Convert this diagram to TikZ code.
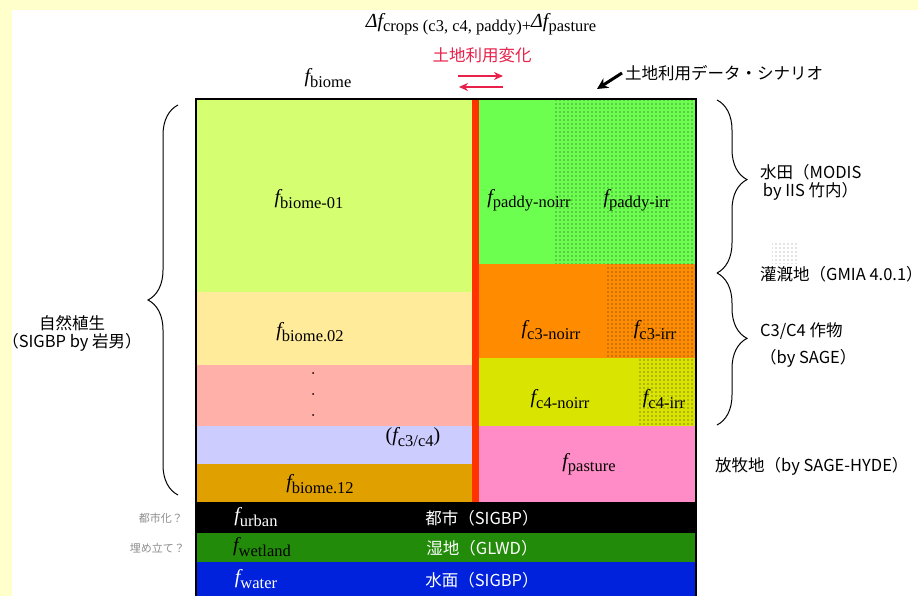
\documentclass[tikz,border=0pt]{standalone}
\usepackage{fontspec}
\setmainfont{Liberation Serif}
\newfontfamily\jp{Noto Sans CJK JP}
\usetikzlibrary{patterns,decorations.pathreplacing,arrows.meta}
\pgfdeclarepatternformonly{fdots}{\pgfqpoint{-1pt}{-1pt}}{\pgfqpoint{1pt}{1pt}}{\pgfqpoint{4pt}{4pt}}{\pgfpathcircle{\pgfqpoint{0pt}{0pt}}{0.7pt}\pgfusepath{fill}}
\definecolor{bgyel}{HTML}{FFFFCC}
\definecolor{cb01}{HTML}{D5FF70}
\definecolor{cb02}{HTML}{FFEB99}
\definecolor{cbpink}{HTML}{FFB0A8}
\definecolor{cblav}{HTML}{CCCCFF}
\definecolor{cb12}{HTML}{E0A000}
\definecolor{cpaddy}{HTML}{6CFF50}
\definecolor{cc3}{HTML}{FF8C00}
\definecolor{cc4}{HTML}{D9E400}
\definecolor{cpast}{HTML}{FF8CC6}
\definecolor{cwet}{HTML}{228C0A}
\definecolor{cwater}{HTML}{0022DD}
\definecolor{cbar}{HTML}{FF3300}
\definecolor{crimson}{HTML}{E8204A}
\newcommand\fbig{\fontsize{20}{24}\selectfont}
\newcommand\fsub{\fontsize{16.5}{20}\selectfont}
\newcommand\fl[1]{{\fbig\itshape f}\raisebox{-4.5pt}{\fsub #1}}
\newcommand\jsz{\jp\fontsize{16.5}{20}\selectfont}
\tikzset{
  lbl/.style={inner sep=0pt, anchor=center},
  jlbl/.style={inner sep=0pt, font=\jsz},
  jlw/.style={jlbl, anchor=west},
  graylbl/.style={inner sep=0pt, anchor=east, text=black!45, font=\jp\fontsize{11}{13}\selectfont},
  brc/.style={decorate, decoration={brace, amplitude=30pt, aspect=#1}, line width=1pt},
  brc/.default=0.5,
  redarr/.style={crimson, line width=1.6pt, -{Stealth[length=9pt,width=8pt]}},
  blkarr/.style={black, line width=3pt, -{Stealth[length=11pt,width=11pt]}},
  dotted area/.style={pattern=fdots, pattern color=black!85}
}
\begin{document}
\begin{tikzpicture}[x=1pt,y=-1pt]
\useasboundingbox (0,0) rectangle (918,596);
\clip (0,0) rectangle (918,596);
% background
\fill[bgyel] (0,0) rectangle (918,596);
\fill[white] (12,10) rectangle (918,596);
% left bands
\fill[cb01] (196,99) rectangle (472,292);
\fill[cb02] (196,292) rectangle (472,365);
\fill[cbpink] (196,365) rectangle (472,426);
\fill[cblav] (196,426) rectangle (472,464);
\fill[cb12] (196,464) rectangle (472,502);
% right bands
\fill[cpaddy] (479,99) rectangle (696,264);
\fill[dotted area] (553,99) rectangle (696,264);
\fill[cc3] (479,264) rectangle (696,358);
\fill[dotted area] (605,264) rectangle (696,358);
\fill[cc4] (479,358) rectangle (696,426);
\fill[dotted area] (637,358) rectangle (696,426);
\fill[cpast] (479,426) rectangle (696,502);
% red bar
\fill[cbar] (472,99) rectangle (479,502);
% bottom bands
\fill[black] (196,502) rectangle (696,533);
\fill[cwet] (196,533) rectangle (696,562);
\fill[cwater] (196,562) rectangle (696,600);
% frame
\draw[line width=2pt] (196,99) rectangle (696,600);
% labels in box
\node[lbl] (b01) at (309,199) {\fl{biome-01}};
\node[lbl] (b02) at (310,332) {\fl{biome.02}};
\fill (313,373) circle (1pt) (313,394) circle (1pt) (313,415) circle (1pt);
\node[lbl] (c34) at (413,437) {{\fbig(}\fl{c3/c4}{\fbig)}};
\node[lbl] (b12) at (320,484) {\fl{biome.12}};
\node[lbl] (pn) at (529,200) {\fl{paddy-noirr}};
\node[lbl] (pi) at (637,200) {\fl{paddy-irr}};
\node[lbl] (c3n) at (551,330) {\fl{c3-noirr}};
\node[lbl] (c3i) at (655,330) {\fl{c3-irr}};
\node[lbl] (c4n) at (560,399) {\fl{c4-noirr}};
\node[lbl] (c4i) at (664,399) {\fl{c4-irr}};
\node[lbl] (pas) at (589,464) {\fl{pasture}};
\node[lbl, text=white] (urb) at (256,517) {\fl{urban}};
\node[lbl, text=black] (wet) at (262,547) {\fl{wetland}};
\node[lbl, text=white] (wat) at (256,579) {\fl{water}};
\node[jlbl, text=white] (jurb) at (482,518) {都市（SIGBP）};
\node[jlbl, text=white] (jwet) at (482,548) {湿地（GLWD）};
\node[jlbl, text=white] (jwat) at (482,580) {水面（SIGBP）};
% gray notes
\node[graylbl] (n1) at (183,518) {都市化？};
\node[graylbl] (n2) at (185,548) {埋め立て？};
% top
\node[lbl] (top) at (481,24) {{\fbig\itshape Δf}\raisebox{-4.5pt}{\fsub crops (c3, c4, paddy)+}{\fbig\itshape Δf}\raisebox{-4.5pt}{\fsub pasture}};
\node[jlbl, text=crimson] (luc) at (482,55) {土地利用変化};
\node[lbl] (fb) at (328,78) {\fl{biome}};
\coordinate (a1s) at (458,76); \coordinate (a1e) at (503,76);
\coordinate (a2s) at (503,87); \coordinate (a2e) at (459,87);
\draw[redarr] (a1s) -- (a1e);
\draw[redarr] (a2s) -- (a2e);
\node[jlw] (scen) at (625,73) {土地利用データ・シナリオ};
\coordinate (ba) at (597,89);
\draw[blkarr] (scen.west) ++(-3,0) coordinate (bs) -- (ba);
% braces
\coordinate (lbB) at (178,495); \coordinate (lbT) at (178,105);
\draw[brc=0.5] (lbB) -- (lbT);
\coordinate (r1T) at (717,100); \coordinate (r1B) at (717,273);
\draw[brc=0.46] (r1T) -- (r1B);
\coordinate (r2B) at (717,425);
\draw[brc=0.43] (r1B) -- (r2B);
% side labels
\node[jlbl] (nv1) at (72,323) {自然植生};
\node[jlbl] (nv2) at (72,342) {（SIGBP by 岩男）};
\node[jlw] (pd1) at (760,172) {水田（MODIS};
\node[jlw] (pd2) at (760,191) {\,by IIS 竹内）};
\fill[pattern=fdots, pattern color=black!45] (772,242) rectangle (797,263);
\node[jlw] (irr) at (760,274) {灌漑地（GMIA 4.0.1）};
\node[jlw] (cc1) at (760,331) {C3/C4 作物};
\node[jlw] (cc2) at (760,358) {（by SAGE）};
\node[jlw] (ps) at (715,466) {放牧地（by SAGE-HYDE）};
\end{tikzpicture}
\end{document}
